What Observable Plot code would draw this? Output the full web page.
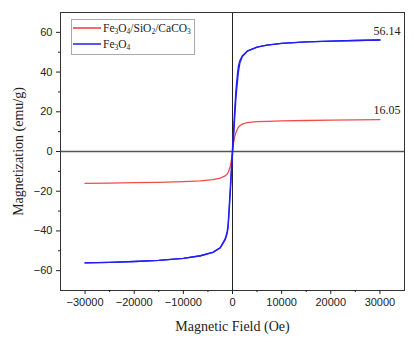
<!DOCTYPE html>
<html>
<head>
<meta charset="utf-8">
<script src="https://cdn.jsdelivr.net/npm/d3@7"></script>
<script src="https://cdn.jsdelivr.net/npm/@observablehq/plot@0.6"></script>
<style>
  body { margin: 0; background: #fff; }
  #wrap { position: relative; width: 414px; height: 342px; }
  #legend { position: absolute; left: 71px; top: 19px; width: 124px; height: 36px;
    border: 1px solid #aaa; background: #fff; font-family: "Liberation Serif", "Times New Roman", serif;
    font-size: 11.5px; color: #222; box-sizing: border-box; }
  .row { position: absolute; left: 1px; height: 14px; display: flex; align-items: center; white-space: nowrap; }
  .row svg { margin-right: 2px; }
  sub { font-size: 7.5px; vertical-align: -2px; line-height: 0; }
</style>
</head>
<body>
<div id="wrap">
  <div id="chart"></div>
  <div id="legend"></div>
</div>
<script>
// Field values (Oe)
const field = [-30000,-25000,-20000,-15000,-10000,-6500,-4000,-2500,-1500,-1100,-900,-700,-400,-200,0,200,400,700,1000,1200,1500,2000,3000,5000,7000,10000,15000,20000,25000,30000];
// Fe3O4 descending branch (emu/g)
const fe3o4Down = [-56.1,-55.8,-55.4,-54.8,-53.8,-52.5,-50.8,-48.4,-44,-40.5,-37,-29,-16,-7,2,10,19,31,39,43,45.8,48.2,50.5,52.6,53.6,54.5,55.2,55.6,55.9,56.14];
// Fe3O4 ascending branch (emu/g)
const fe3o4Up = [-56.1,-55.8,-55.4,-54.8,-53.8,-52.5,-50.8,-48.6,-44.5,-41.5,-38.5,-31,-19,-10,-2,6,15,27,35,40,44.5,47.8,50.5,52.6,53.6,54.5,55.2,55.6,55.9,56.14];
// Fe3O4/SiO2/CaCO3 (emu/g)
const composite = [-16.1,-15.9,-15.7,-15.5,-15.2,-14.8,-14.2,-13.4,-12.3,-11.4,-10.6,-9.5,-7,-4,0,4,7,9.5,11.3,12.2,13,13.8,14.5,15.0,15.2,15.4,15.6,15.8,15.95,16.05];

const xTicks = [-30000,-20000,-10000,0,10000,20000,30000];
const xMinor = [-25000,-15000,-5000,5000,15000,25000];
const yTicks = [-60,-40,-20,0,20,40,60];
const yMinor = [-50,-30,-10,10,30,50];
const annotations = [{x: 30000, y: 56.14, label: "56.14"}, {x: 30000, y: 16.05, label: "16.05"}];

const colors = {composite: "#f03838", fe3o4: "#1f1ff5"};

const rows = (vals, series) => field.map((f, i) => ({f, m: vals[i], series}));
const blueDown = rows(fe3o4Down, "down");
const blueUp = rows(fe3o4Up, "up");
const red = rows(composite, "c");

const tickFont = "'Liberation Sans', Arial, sans-serif";
const titleFont = "'Liberation Serif', 'Times New Roman', serif";

const chart = Plot.plot({
  width: 414,
  height: 342,
  marginLeft: 60,
  marginRight: 10,
  marginTop: 12,
  marginBottom: 52,
  style: {background: "#fff", color: "#222", fontFamily: tickFont, fontSize: "11px"},
  x: {domain: [-35000, 35000]},
  y: {domain: [-70, 70]},
  marks: [
    Plot.ruleY([0], {stroke: "#555", strokeWidth: 1.6}),
    Plot.ruleX([0], {stroke: "#222", strokeWidth: 1}),
    Plot.line(red, {x: "f", y: "m", stroke: colors.composite, strokeWidth: 1.3, strokeOpacity: 0.9}),
    Plot.line(blueDown, {x: "f", y: "m", stroke: colors.fe3o4, strokeWidth: 1.3}),
    Plot.line(blueUp, {x: "f", y: "m", stroke: colors.fe3o4, strokeWidth: 1.3}),
    Plot.text(annotations, {x: "x", y: "y", text: "label", dx: 7, dy: -9, fontFamily: titleFont, fontSize: 12, fill: "#222"}),
    Plot.frame({stroke: "#333", strokeWidth: 1}),
    Plot.axisX({ticks: xTicks, tickSize: 4, tickPadding: 4, tickFormat: d3.format("d"), label: null, fontSize: 11}),
    Plot.axisX({ticks: xMinor, tickSize: 2, tickFormat: () => "", label: null}),
    Plot.axisX({ticks: [], label: "Magnetic Field (Oe)", labelAnchor: "center", labelArrow: "none", labelOffset: 40, fontFamily: titleFont, fontSize: 14}),
    Plot.axisY({ticks: yTicks, tickSize: 4, tickPadding: 4, tickFormat: d3.format("d"), label: null, fontSize: 11}),
    Plot.axisY({ticks: yMinor, tickSize: 2, tickFormat: () => "", label: null}),
    Plot.axisY({ticks: [], label: "Magnetization (emu/g)", labelAnchor: "center", labelArrow: "none", labelOffset: 47, fontFamily: titleFont, fontSize: 14})
  ]
});
document.getElementById("chart").appendChild(chart);

const legendItems = [
  {html: "Fe<sub>3</sub>O<sub>4</sub>/SiO<sub>2</sub>/CaCO<sub>3</sub>", color: colors.composite},
  {html: "Fe<sub>3</sub>O<sub>4</sub>", color: colors.fe3o4}
];
const leg = document.getElementById("legend");
legendItems.forEach((it, i) => {
  const r = document.createElement("div");
  r.className = "row";
  r.style.top = (1 + i * 16) + "px";
  r.innerHTML = `<svg width="28" height="6"><line x1="0" x2="28" y1="3" y2="3" stroke="${it.color}" stroke-width="1.5"/></svg><span>${it.html}</span>`;
  leg.appendChild(r);
});
</script>
</body>
</html>
